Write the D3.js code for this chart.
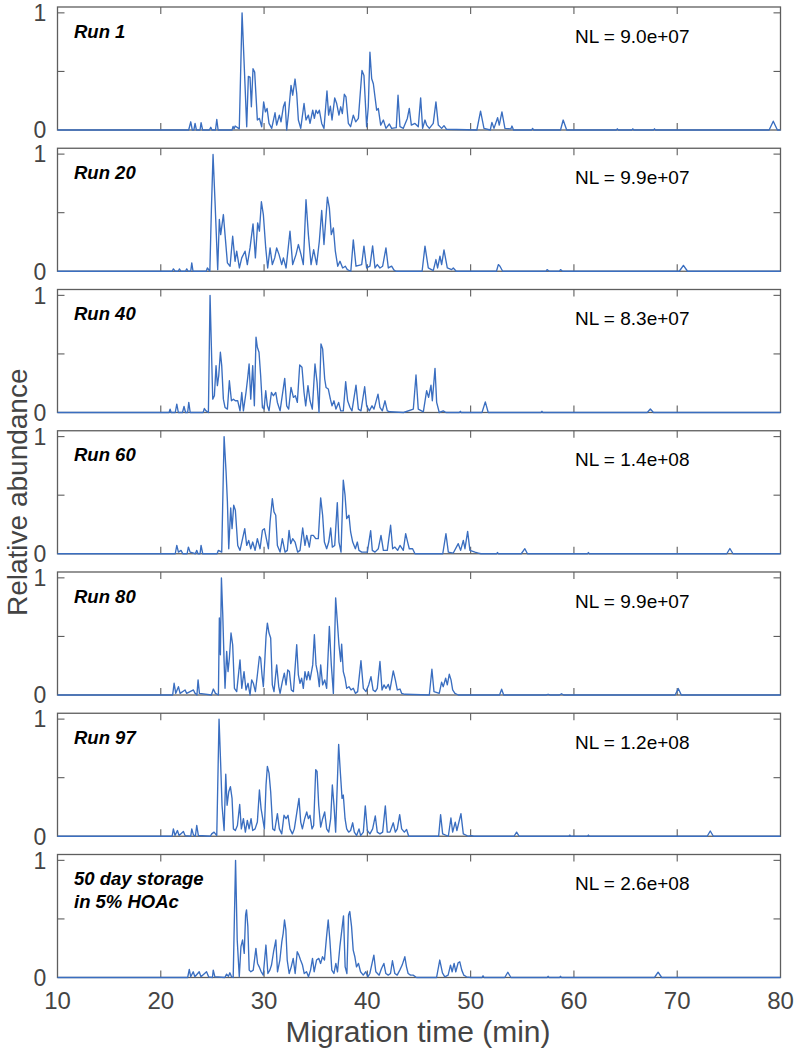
<!DOCTYPE html>
<html><head><meta charset="utf-8">
<script src="https://cdn.jsdelivr.net/npm/d3@7"></script>
<style>body{margin:0;background:#fff}svg{display:block}</style>
</head><body>
<svg id="chart" width="796" height="1048"></svg>
<script>
const panelLabels = [["Run 1"],["Run 20"],["Run 40"],["Run 60"],["Run 80"],["Run 97"],["50 day storage","in 5% HOAc"]];
const nlLabels = ["NL = 9.0e+07","NL = 9.9e+07","NL = 8.3e+07","NL = 1.4e+08","NL = 9.9e+07","NL = 1.2e+08","NL = 2.6e+08"];
const xTickValues = [10,20,30,40,50,60,70,80];
const yTickValues = [0,0.5,1];
const yTickLabels = {0:"0",1:"1"};

const run1 = [[10,0],[22.7,0],[22.9,0.07],[23.05,0],[23.2,0],[23.32,0.056],[23.45,0],[23.8,0],[23.9,0.062],[24.05,0],[24.7,0],[24.84,0.023],[24.95,0],[25.3,0],[25.42,0.09],[25.55,0],[26.9,0],[27.0,0.03],[27.1,0.01],[27.2,0.034],[27.6,0.01],[27.87,1.0],[28.32,0.028],[28.48,0.458],[28.64,0.452],[28.77,0.198],[28.93,0.523],[29.09,0.494],[29.35,0.085],[29.55,0.099],[29.77,0.028],[29.96,0.24],[30.13,0.155],[30.29,0.184],[30.48,0.056],[30.74,0.014],[31.06,0.147],[31.22,0.042],[31.48,0.127],[31.64,0.07],[31.87,0.198],[32.03,0.24],[32.19,0],[32.35,0.127],[32.61,0.381],[32.77,0.297],[33.0,0.435],[33.16,0.311],[33.32,0.085],[33.55,0.014],[33.87,0.226],[34.06,0.085],[34.29,0.127],[34.45,0.056],[34.71,0.169],[34.87,0.099],[35.03,0.169],[35.19,0.141],[35.35,0.169],[35.58,0.056],[35.8,0.014],[36.09,0.333],[36.25,0.127],[36.42,0.203],[36.58,0.085],[36.84,0.274],[37.03,0.226],[37.25,0.127],[37.42,0.198],[37.58,0.141],[37.77,0.305],[37.93,0.282],[38.16,0.056],[38.38,0.028],[38.64,0.127],[38.87,0.07],[39.13,0.099],[39.48,0.508],[39.67,0.466],[39.93,0.028],[40.09,0.198],[40.25,0.664],[40.42,0.438],[40.58,0.395],[40.74,0.282],[40.9,0.169],[41.06,0.184],[41.29,0.042],[41.55,0.085],[41.8,0.014],[42.13,0.051],[42.35,0.014],[42.8,0.02],[42.97,0.297],[43.16,0.028],[43.48,0.014],[43.87,0.099],[44.06,0.184],[44.26,0.042],[44.61,0.056],[44.93,0.028],[45.16,0.274],[45.35,0.014],[45.58,0.085],[45.74,0.042],[46.0,0.014],[46.38,0.056],[46.64,0.24],[46.87,0.042],[47.19,0.014],[47.42,0.037],[47.67,0.006],[50.6,0],[50.96,0.161],[51.29,0.014],[51.9,0],[52.06,0.065],[52.26,0.014],[52.61,0.105],[52.77,0.042],[53.03,0.155],[53.32,0.014],[53.9,0.01],[54.0,0.034],[54.15,0],[55.9,0],[56.0,0.014],[56.1,0],[58.7,0],[58.96,0.085],[59.3,0],[64.1,0],[64.2,0.01],[64.3,0],[65.6,0],[65.7,0.01],[65.8,0],[67.7,0],[67.8,0.01],[67.9,0],[78.9,0],[79.3,0.075],[79.7,0],[80,0]];

const run20 = [[10,0],[21.1,0],[21.22,0.02],[21.4,0],[21.7,0],[21.8,0.02],[21.95,0],[22.4,0],[22.51,0.02],[22.65,0],[22.9,0],[23.0,0.071],[23.12,0],[24.4,0],[24.51,0.028],[24.75,0],[24.9,0.527],[25.06,0.997],[25.25,0.598],[25.51,0.014],[25.67,0.442],[25.8,0.313],[26.06,0.484],[26.22,0.313],[26.45,0.071],[26.71,0.043],[26.96,0.299],[27.19,0.085],[27.35,0.171],[27.61,0.028],[27.84,0.114],[28.16,0.171],[28.38,0.057],[28.64,0.199],[28.93,0.405],[29.16,0.114],[29.38,0.413],[29.55,0.342],[29.74,0.593],[29.93,0.484],[30.16,0.199],[30.35,0.028],[30.58,0.199],[30.8,0.057],[31.03,0.114],[31.22,0.199],[31.45,0.142],[31.71,0.057],[31.87,0.114],[32.13,0.028],[32.51,0.342],[32.77,0.057],[33.09,0.142],[33.32,0.228],[33.58,0.142],[33.8,0.057],[34.06,0.61],[34.29,0.313],[34.55,0.057],[34.8,0.185],[35.09,0.057],[35.35,0.256],[35.58,0.519],[35.8,0.228],[36.13,0.632],[36.32,0.541],[36.51,0.313],[36.71,0.37],[36.9,0.171],[37.13,0.043],[37.35,0.085],[37.61,0.028],[37.87,0.043],[38.06,0.014],[38.4,0],[38.64,0.268],[38.9,0.043],[39.45,0.057],[39.67,0.214],[39.93,0.028],[40.25,0.043],[40.51,0.217],[40.74,0.028],[40.96,0.057],[41.22,0.028],[41.48,0.043],[41.8,0.199],[42.03,0.028],[42.35,0.043],[42.58,0.009],[42.8,0],[45.3,0],[45.58,0.214],[45.9,0.028],[46.38,0.006],[46.64,0.1],[46.8,0.028],[47.03,0.128],[47.19,0.057],[47.42,0.182],[47.74,0.028],[48.16,0.014],[48.32,0.028],[48.6,0],[52.5,0],[52.68,0.057],[52.84,0.043],[53.1,0],[57.3,0],[57.4,0.014],[57.6,0],[58.6,0],[58.7,0.014],[58.9,0],[70.2,0],[70.6,0.05],[71.0,0],[80,0]];

const run40 = [[10,0],[20.8,0],[20.9,0.029],[21.0,0],[21.4,0],[21.55,0.071],[21.7,0],[22.1,0],[22.25,0.051],[22.4,0],[22.6,0],[22.71,0.086],[22.85,0],[24.1,0],[24.22,0.034],[24.38,0.014],[24.61,0],[24.77,1.0],[25.03,0.114],[25.19,0.143],[25.35,0.4],[25.48,0.229],[25.61,0.314],[25.77,0.514],[25.9,0.4],[26.06,0.114],[26.22,0.043],[26.45,0.029],[26.64,0.271],[26.84,0.1],[27.03,0.114],[27.22,0.1],[27.45,0.1],[27.67,0.014],[27.84,0.171],[28.0,0.014],[28.25,0.171],[28.42,0.3],[28.55,0.414],[28.71,0.114],[28.9,0.4],[29.06,0.057],[29.22,0.643],[29.35,0.557],[29.51,0.514],[29.67,0.314],[29.84,0.043],[30.0,0.029],[30.16,0.186],[30.32,0.057],[30.48,0.014],[30.71,0.171],[30.9,0.143],[31.13,0.171],[31.29,0.086],[31.55,0.014],[32.0,0.291],[32.19,0.057],[32.38,0.029],[32.61,0.214],[32.84,0.129],[33.03,0.143],[33.22,0.086],[33.45,0.406],[33.67,0.386],[33.87,0.171],[34.03,0.057],[34.25,0.229],[34.45,0.1],[34.67,0.029],[34.93,0.414],[35.13,0.257],[35.32,0],[35.51,0.586],[35.67,0.543],[35.87,0.286],[36.0,0.214],[36.22,0.2],[36.42,0.114],[36.58,0.057],[36.77,0.1],[36.96,0.029],[37.22,0.086],[37.42,0.014],[37.67,0.014],[37.9,0.263],[38.09,0.1],[38.32,0.043],[38.51,0.014],[38.9,0.234],[39.13,0.029],[39.38,0.014],[39.74,0.22],[39.93,0.057],[40.19,0.014],[40.45,0.057],[40.64,0.029],[41.03,0.157],[41.22,0.043],[41.45,0.014],[41.71,0.1],[41.93,0.014],[42.2,0.006],[43.5,0],[44.45,0.029],[44.71,0.32],[44.93,0.029],[45.42,0.006],[45.74,0.186],[45.93,0.129],[46.16,0.234],[46.29,0.1],[46.55,0.377],[46.71,0.086],[46.96,0],[47.35,0.014],[47.6,0],[48.9,0],[49.0,0.01],[49.1,0],[51.1,0],[51.42,0.091],[51.7,0],[56.8,0],[56.9,0.01],[57.0,0],[67.1,0],[67.4,0.03],[67.7,0],[80,0]];

const run60 = [[10,0],[21.4,0],[21.55,0.071],[21.71,0.014],[21.96,0.029],[22.13,0],[22.55,0],[22.67,0.057],[22.84,0.014],[23.35,0],[23.48,0.029],[23.6,0],[23.8,0],[23.9,0.071],[24.06,0],[25.45,0],[25.58,0.029],[25.9,0.014],[26.13,1.0],[26.32,0.7],[26.45,0.443],[26.58,0.043],[26.77,0.391],[26.9,0.214],[27.06,0.414],[27.22,0.371],[27.45,0.071],[27.67,0.029],[28.13,0.214],[28.32,0.071],[28.51,0.114],[28.71,0.043],[28.9,0.1],[29.13,0.029],[29.35,0.129],[29.61,0.043],[29.84,0.2],[30.03,0.214],[30.22,0.129],[30.42,0.043],[30.58,0.271],[30.8,0.471],[30.96,0.357],[31.13,0.329],[31.29,0.071],[31.55,0.014],[31.77,0.129],[32.03,0.014],[32.25,0.029],[32.42,0.2],[32.58,0.086],[32.77,0.129],[33.0,0.1],[33.25,0.014],[33.48,0.029],[33.74,0.22],[33.96,0.071],[34.13,0.157],[34.38,0.057],[34.55,0.157],[34.77,0.157],[35.0,0.129],[35.25,0.129],[35.48,0.477],[35.67,0.329],[35.84,0.1],[36.06,0.043],[36.26,0.1],[36.45,0.22],[36.61,0.057],[36.84,0.071],[37.09,0.437],[37.25,0.1],[37.45,0.014],[37.67,0.629],[37.84,0.5],[38.0,0.3],[38.22,0.329],[38.38,0.186],[38.58,0.1],[38.84,0.043],[39.03,0.1],[39.19,0.029],[39.45,0.014],[40.0,0.014],[40.32,0.197],[40.48,0.029],[40.74,0.014],[41.06,0.043],[41.32,0.157],[41.55,0.029],[41.93,0.029],[42.25,0.243],[42.45,0.043],[42.67,0.057],[42.93,0.029],[43.16,0.071],[43.48,0.029],[43.71,0.171],[43.9,0.1],[44.06,0.043],[44.38,0.043],[44.61,0],[47.3,0],[47.61,0.171],[47.84,0.014],[48.32,0.006],[48.8,0.086],[49.03,0.029],[49.29,0.114],[49.45,0.043],[49.71,0.191],[49.93,0.029],[50.42,0.014],[50.74,0.006],[51.0,0],[52.5,0],[52.6,0.01],[52.7,0],[54.9,0],[55.25,0.043],[55.5,0],[61.3,0],[61.4,0.01],[61.5,0],[74.8,0],[75.1,0.045],[75.4,0],[80,0]];

const run80 = [[10,0],[21.15,0],[21.29,0.1],[21.45,0.014],[21.71,0.071],[21.87,0.014],[22.35,0.043],[22.51,0.014],[23.16,0.043],[23.32,0.014],[23.5,0],[23.61,0.129],[23.74,0.014],[24.9,0],[25.09,0.051],[25.29,0.014],[25.58,0],[25.67,0.657],[25.77,0.343],[25.87,1.0],[26.0,0.686],[26.13,0.286],[26.22,0.057],[26.38,0.371],[26.51,0.2],[26.64,0.314],[26.8,0.529],[26.96,0.429],[27.13,0.057],[27.35,0.029],[27.67,0.3],[27.84,0.057],[28.06,0.2],[28.25,0.043],[28.45,0.1],[28.64,0],[28.8,0.129],[28.96,0.1],[29.16,0.029],[29.35,0.171],[29.55,0.329],[29.67,0.314],[29.8,0.171],[29.93,0.071],[30.09,0.329],[30.19,0.5],[30.32,0.614],[30.48,0.529],[30.64,0.486],[30.8,0.086],[30.96,0.029],[31.22,0.257],[31.42,0.071],[31.55,0.014],[31.77,0.114],[31.96,0.186],[32.13,0.086],[32.29,0.214],[32.45,0.2],[32.64,0.043],[32.84,0.029],[33.16,0.429],[33.32,0.171],[33.48,0.1],[33.64,0.143],[33.8,0.057],[33.96,0.2],[34.13,0.129],[34.29,0.2],[34.45,0.129],[34.71,0.257],[34.87,0.514],[35.03,0.257],[35.19,0.186],[35.35,0.071],[35.48,0.257],[35.67,0.086],[35.87,0.129],[36.06,0.057],[36.32,0.586],[36.51,0.257],[36.71,0.014],[36.93,0.829],[37.09,0.629],[37.25,0.429],[37.42,0.286],[37.51,0.434],[37.67,0.2],[37.84,0.143],[38.0,0.057],[38.22,0.071],[38.42,0.043],[38.64,0.057],[38.84,0.014],[39.06,0.029],[39.38,0.294],[39.61,0.057],[39.87,0.029],[40.13,0.086],[40.35,0.157],[40.55,0.043],[40.77,0.029],[40.96,0.057],[41.22,0.286],[41.42,0.043],[41.61,0.086],[41.8,0.057],[42.03,0.091],[42.19,0.043],[42.51,0.206],[42.71,0.129],[42.9,0.043],[43.16,0.051],[43.32,0.014],[43.64,0.006],[46.0,0],[46.25,0.22],[46.45,0.029],[46.96,0.014],[47.19,0.109],[47.35,0.071],[47.58,0.143],[47.74,0.086],[47.93,0.177],[48.1,0.129],[48.26,0.043],[48.48,0.014],[48.8,0],[52.8,0],[53.0,0.049],[53.2,0],[57.3,0],[57.5,0.006],[57.7,0],[58.6,0],[58.8,0.011],[59.0,0],[69.8,0],[70.1,0.055],[70.4,0],[80,0]];

const run97 = [[10,0],[21.1,0],[21.22,0.063],[21.38,0.006],[21.61,0.049],[21.77,0.006],[22.19,0.04],[22.35,0.006],[22.9,0],[23.0,0.063],[23.16,0.012],[23.35,0],[23.48,0.092],[23.64,0.006],[24.8,0],[24.93,0.02],[25.16,0.035],[25.42,0.006],[25.64,1.0],[25.8,0.611],[25.93,0.265],[26.13,0.049],[26.29,0.53],[26.42,0.265],[26.58,0.38],[26.74,0.424],[26.9,0.323],[27.03,0.063],[27.22,0.049],[27.42,0.092],[27.64,0.271],[27.8,0.063],[28.0,0.15],[28.19,0.035],[28.38,0.135],[28.55,0.063],[28.74,0.15],[28.9,0.049],[29.13,0.063],[29.35,0.121],[29.55,0.395],[29.71,0.236],[29.87,0.15],[30.03,0.063],[30.19,0.438],[30.32,0.597],[30.48,0.539],[30.64,0.38],[30.84,0.063],[31.03,0.049],[31.29,0.193],[31.48,0.063],[31.71,0.02],[31.93,0.179],[32.13,0.15],[32.32,0.179],[32.51,0.063],[32.74,0.02],[32.93,0.063],[33.38,0.323],[33.55,0.121],[33.71,0.063],[33.93,0.15],[34.13,0.207],[34.29,0.15],[34.45,0.179],[34.64,0.063],[34.8,0.092],[35.0,0.568],[35.13,0.553],[35.29,0.265],[35.48,0.078],[35.67,0.15],[35.87,0.207],[36.06,0.063],[36.26,0.035],[36.45,0.15],[36.61,0.438],[36.77,0.265],[36.93,0.035],[37.22,0.784],[37.38,0.553],[37.55,0.323],[37.67,0.352],[37.84,0.15],[38.0,0.063],[38.19,0.035],[38.38,0.049],[38.58,0.115],[38.74,0.035],[38.96,0.006],[39.19,0.063],[39.35,0.006],[39.61,0.035],[39.8,0.259],[40.0,0.049],[40.25,0.02],[40.51,0.063],[40.77,0.173],[40.96,0.035],[41.22,0.02],[41.48,0.035],[41.74,0.259],[41.93,0.035],[42.19,0.035],[42.51,0.115],[42.71,0.035],[42.9,0.063],[43.13,0.184],[43.32,0.063],[43.58,0.035],[43.8,0.058],[44.0,0],[46.9,0],[47.09,0.184],[47.29,0.02],[47.84,0],[48.09,0.156],[48.26,0.035],[48.51,0.121],[48.67,0.049],[49.06,0.193],[49.29,0.02],[49.77,0],[50.1,0.006],[50.3,0],[54.2,0],[54.45,0.035],[54.7,0],[59.5,0],[59.6,0.01],[59.7,0],[61.3,0],[61.4,0.01],[61.5,0],[72.9,0],[73.2,0.045],[73.5,0],[80,0]];

const storage50 = [[10,0],[22.6,0],[22.76,0.069],[22.9,0.006],[23.14,0.049],[23.3,0.006],[23.72,0.049],[23.89,0.006],[24.43,0.049],[24.63,0.006],[25.0,0],[25.08,0.063],[25.24,0.006],[26.2,0],[26.37,0.029],[26.55,0.01],[26.69,0.04],[26.85,0.006],[27.01,0],[27.24,1.0],[27.4,0.32],[27.6,0.006],[27.76,0.263],[27.92,0.32],[28.08,0.206],[28.21,0.534],[28.3,0.577],[28.43,0.434],[28.56,0.063],[28.72,0.049],[28.95,0.063],[29.21,0.249],[29.37,0.12],[29.53,0.091],[29.72,0.049],[29.92,0.02],[30.18,0.277],[30.37,0.034],[30.56,0.063],[30.72,0.106],[30.92,0.22],[31.14,0.32],[31.3,0.049],[31.53,0.149],[31.72,0.306],[31.85,0.377],[31.98,0.491],[32.11,0.406],[32.24,0.149],[32.43,0.034],[32.63,0.091],[32.82,0.163],[33.01,0.034],[33.21,0.22],[33.37,0.191],[33.53,0.149],[33.72,0.106],[33.89,0.034],[34.11,0.049],[34.3,0.006],[34.5,0.063],[34.69,0.163],[34.85,0.049],[35.08,0.149],[35.3,0.163],[35.47,0.12],[35.66,0.177],[35.85,0.149],[36.05,0.349],[36.21,0.491],[36.37,0.32],[36.56,0.063],[36.76,0.034],[36.95,0.12],[37.11,0.049],[37.34,0.263],[37.53,0.406],[37.69,0.526],[37.85,0.091],[38.02,0.034],[38.18,0.534],[38.3,0.563],[38.47,0.434],[38.63,0.234],[38.79,0.177],[38.95,0.091],[39.14,0.12],[39.34,0.049],[39.6,0.02],[39.85,0.049],[40.05,0.006],[40.24,0.034],[40.63,0.191],[40.82,0.049],[41.14,0.02],[41.37,0.077],[41.6,0.12],[41.79,0.034],[42.02,0.02],[42.24,0.034],[42.43,0.143],[42.66,0.034],[42.89,0.02],[43.14,0.063],[43.37,0.106],[43.63,0.177],[43.79,0.091],[43.95,0.034],[44.18,0.02],[44.43,0.02],[44.76,0],[46.7,0],[47.01,0.149],[47.27,0.04],[47.5,0.006],[47.82,0.02],[48.05,0.106],[48.21,0.049],[48.4,0.12],[48.56,0.049],[48.79,0.126],[48.95,0.134],[49.14,0.063],[49.34,0.02],[49.6,0.006],[50.0,0],[51.1,0],[51.2,0.015],[51.3,0],[53.3,0],[53.6,0.045],[53.9,0],[57.4,0],[57.5,0.01],[57.6,0],[58.6,0],[58.7,0.01],[58.8,0],[67.8,0],[68.15,0.045],[68.5,0],[80,0]];

const seriesList = [run1, run20, run40, run60, run80, run97, storage50];

const svg = d3.select("#chart");
const left = 57.5, right = 780.5;
const firstBase = 130, step = 141.25, panelH = 123;
const x = d3.scaleLinear().domain([10, 80]).range([left, right]);
const frameColor = "#5e5e5e";
const textGray = "#444";
const fontNum = "'Liberation Sans', Arial, sans-serif";

seriesList.forEach((data, i) => {
  const base = firstBase + i * step;
  const top = base - panelH;
  const y = d3.scaleLinear().domain([0, 1.05]).range([base, top]);
  const g = svg.append("g");

  g.append("rect").attr("x", left).attr("y", top).attr("width", right - left).attr("height", base - top)
    .attr("fill", "none").attr("stroke", frameColor).attr("stroke-width", 1.3);

  const xt = xTickValues.filter(v => v > 10 && v < 80);
  g.selectAll(".xb").data(xt).enter().append("line")
    .attr("x1", d => x(d)).attr("x2", d => x(d)).attr("y1", base).attr("y2", base - 7)
    .attr("stroke", frameColor).attr("stroke-width", 1.1);
  g.selectAll(".xt").data(xt).enter().append("line")
    .attr("x1", d => x(d)).attr("x2", d => x(d)).attr("y1", top).attr("y2", top + 7)
    .attr("stroke", frameColor).attr("stroke-width", 1.1);
  const yt = yTickValues.filter(v => v > 0);
  g.selectAll(".yl").data(yt).enter().append("line")
    .attr("x1", left).attr("x2", left + 7).attr("y1", d => y(d)).attr("y2", d => y(d))
    .attr("stroke", frameColor).attr("stroke-width", 1.1);
  g.selectAll(".yr").data(yt).enter().append("line")
    .attr("x1", right).attr("x2", right - 7).attr("y1", d => y(d)).attr("y2", d => y(d))
    .attr("stroke", frameColor).attr("stroke-width", 1.1);
  g.selectAll(".ylab").data(yTickValues.filter(v => yTickLabels[v] !== undefined)).enter().append("text")
    .attr("x", 40).attr("y", d => y(d)).attr("dy", "0.36em")
    .attr("text-anchor", "middle").attr("font-family", fontNum).attr("font-size", 23)
    .attr("fill", textGray).text(d => yTickLabels[d]);

  const line = d3.line().x(d => x(d[0])).y(d => y(d[1]));
  g.append("path").datum(data).attr("d", line).attr("fill", "none")
    .attr("stroke", "#3a6ec0").attr("stroke-width", 1.35).attr("stroke-linejoin", "round");

  const lab = g.append("text").attr("font-family", fontNum).attr("font-size", 18.5)
    .attr("font-weight", "bold").attr("font-style", "italic").attr("fill", "#000");
  panelLabels[i].forEach((t, k) => {
    lab.append("tspan").attr("x", 74).attr("y", top + 30.5 + k * 23).text(t);
  });
  g.append("text").attr("x", 575).attr("y", top + 35.5).attr("font-family", fontNum)
    .attr("font-size", 19).attr("fill", "#000").text(nlLabels[i]);
});

const lastBase = firstBase + 6 * step;
svg.selectAll(".xlab").data(xTickValues).enter().append("text")
  .attr("x", d => x(d)).attr("y", lastBase + 23).attr("dy", "0.36em")
  .attr("text-anchor", "middle").attr("font-family", fontNum).attr("font-size", 24)
  .attr("fill", textGray).text(d => d);

svg.append("text").attr("x", (left + right) / 2 - 1).attr("y", 1042)
  .attr("text-anchor", "middle").attr("font-family", fontNum).attr("font-size", 30)
  .attr("fill", textGray).text("Migration time (min)");

const midY = (firstBase - panelH + lastBase) / 2;
svg.append("text").attr("transform", `translate(27,${midY}) rotate(-90)`)
  .attr("text-anchor", "middle").attr("font-family", fontNum).attr("font-size", 28)
  .attr("fill", textGray).text("Relative abundance");
</script>
</body></html>
